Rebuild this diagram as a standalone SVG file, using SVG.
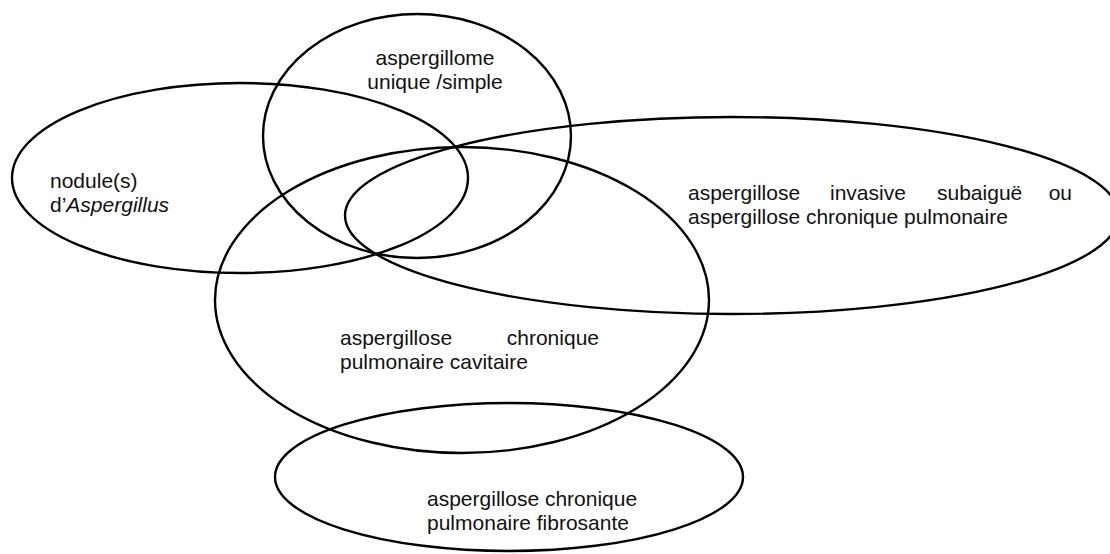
<svg xmlns="http://www.w3.org/2000/svg" width="1110" height="554" viewBox="0 0 1110 554">
<style>
.e{fill:none;stroke:#000;stroke-width:2.4}
.t{font-family:"Liberation Sans",Arial,sans-serif;font-size:21px;fill:#111}
.c{text-anchor:middle}
.r{text-anchor:end}
</style>
<rect width="1110" height="554" fill="#fff"/>
<g id="nodules">
<ellipse class="e" cx="240" cy="178" rx="228" ry="95"/>
<text class="t" x="50" y="188">nodule(s)</text>
<text class="t" x="50" y="212">d’<tspan font-style="italic">Aspergillus</tspan></text>
</g>
<g id="aspergillome">
<ellipse class="e" cx="417" cy="136" rx="154" ry="122"/>
<text class="t c" x="435" y="65">aspergillome</text>
<text class="t c" x="435" y="89">unique /simple</text>
</g>
<g id="invasive">
<ellipse class="e" cx="732" cy="215.5" rx="387" ry="98.5"/>
<text class="t" x="688" y="200">aspergillose</text>
<text class="t" x="830" y="200">invasive</text>
<text class="t" x="937" y="200">subaiguë</text>
<text class="t r" x="1072" y="200">ou</text>
<text class="t" x="688" y="224">aspergillose chronique pulmonaire</text>
</g>
<g id="cavitaire">
<ellipse class="e" cx="462" cy="300" rx="247" ry="153"/>
<text class="t" x="340" y="345">aspergillose</text>
<text class="t r" x="599" y="345">chronique</text>
<text class="t" x="340" y="369">pulmonaire cavitaire</text>
</g>
<g id="fibrosante">
<ellipse class="e" cx="509" cy="477" rx="234" ry="74"/>
<text class="t" x="427" y="506">aspergillose chronique</text>
<text class="t" x="427" y="530">pulmonaire fibrosante</text>
</g>
<g id="connectors"></g>
</svg>
